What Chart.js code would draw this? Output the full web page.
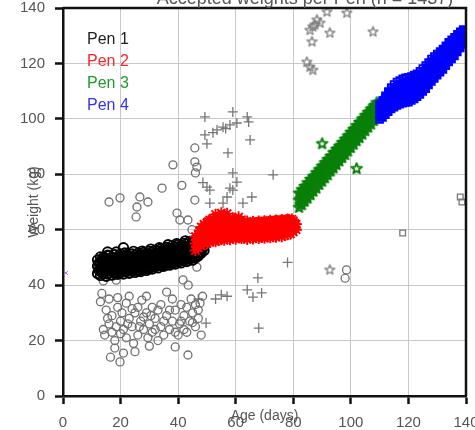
<!DOCTYPE html>
<html>
<head>
<meta charset="utf-8">
<script src="https://cdn.jsdelivr.net/npm/chart.js@4"></script>
<style>
  html, body { margin: 0; padding: 0; background: #fff; }
  canvas { display: block; }
</style>
</head>
<body>
<canvas id="weights" width="475" height="430"></canvas>
<script>
// accepted weights, one array per pen: [age (days), weight (kg)]
var pen1 = [
  [12,44.2],[12,46.8],[12,49.1],[12.5,45.4],[12.5,47.9],
  [13,43.5],[13,45.6],[13,47.9],[13,50.2],[13.5,44.6],[13.5,46.9],[13.5,49.2],
  [14,44.0],[14,46.2],[14,48.5],[14,50.0],[14.5,45.0],[14.5,47.4],[14.5,49.5],
  [15,43.2],[15,45.1],[15,47.3],[15,49.6],[15.5,52.0],[15.5,44.1],[15.5,46.3],[15.5,48.5],[15.5,50.8],
  [16,44.4],[16,46.5],[16,48.8],[16,50.6],[16.5,45.1],[16.5,47.6],[16.5,49.7],
  [17,43.6],[17,45.8],[17,47.7],[17,50.1],[17.5,44.7],[17.5,46.9],[17.5,49.2],
  [18,44.2],[18,46.3],[18,48.6],[18,51.0],[18.5,45.3],[18.5,47.5],[18.5,49.8],[18.5,52.0],
  [19,43.9],[19,45.5],[19,47.9],[19,50.3],[19.5,44.8],[19.5,46.8],[19.5,49.1],
  [20,44.5],[20,46.6],[20,48.9],[20,51.2],[20.5,45.4],[20.5,47.6],[20.5,50.0],
  [21,44.0],[21,46.0],[21,48.2],[21,50.4],[21,53.5],[21.5,45.0],[21.5,47.2],[21.5,49.4],[21.5,51.6],
  [22,44.8],[22,46.9],[22,49.0],[22,51.0],[22.5,45.6],[22.5,47.8],[22.5,50.0],
  [23,44.3],[23,46.4],[23,48.4],[23,50.6],[23.5,45.4],[23.5,47.5],[23.5,49.7],
  [24,45.0],[24,47.0],[24,49.2],[24,51.3],[24.5,45.9],[24.5,48.0],[24.5,50.1],[24.5,52.2],
  [25,44.6],[25,46.5],[25,48.6],[25,50.8],[25.5,45.5],[25.5,47.7],[25.5,49.8],
  [26,45.2],[26,47.3],[26,49.4],[26,51.5],[26.5,46.1],[26.5,48.3],[26.5,50.5],
  [27,44.9],[27,46.8],[27,48.9],[27,51.0],[27.5,45.9],[27.5,48.0],[27.5,50.2],[27.5,52.3],
  [28,45.6],[28,47.6],[28,49.7],[28,51.8],[28.5,46.4],[28.5,48.6],[28.5,50.7],
  [29,45.3],[29,47.2],[29,49.3],[29,51.4],[29.5,46.3],[29.5,48.4],[29.5,50.6],
  [30,46.0],[30,48.0],[30,50.1],[30,52.2],[30.5,46.9],[30.5,49.0],[30.5,51.1],[30.5,53.0],
  [31,45.8],[31,47.7],[31,49.8],[31,52.0],[31.5,46.8],[31.5,48.9],[31.5,51.0],
  [32,46.5],[32,48.5],[32,50.5],[32,52.6],[32.5,47.4],[32.5,49.5],[32.5,51.6],
  [33,46.2],[33,48.2],[33,50.2],[33,52.3],[33.5,47.3],[33.5,49.4],[33.5,51.5],[33.5,53.5],
  [34,47.0],[34,49.0],[34,51.0],[34,53.0],[34.5,47.9],[34.5,50.0],[34.5,52.1],
  [35,46.8],[35,48.7],[35,50.8],[35,52.9],[35.5,47.8],[35.5,49.9],[35.5,52.0],
  [36,47.4],[36,49.5],[36,51.5],[36,53.6],[36.5,48.4],[36.5,50.5],[36.5,52.6],[36.5,54.6],
  [37,47.2],[37,49.1],[37,51.2],[37,53.3],[37.5,48.3],[37.5,50.4],[37.5,52.5],
  [38,47.9],[38,50.0],[38,52.1],[38,54.2],[38.5,48.9],[38.5,51.0],[38.5,53.1],
  [39,47.6],[39,49.6],[39,51.7],[39,53.8],[39.5,48.8],[39.5,50.9],[39.5,53.0],[39.5,55.0],
  [40,48.3],[40,50.4],[40,52.5],[40,54.7],[40.5,49.3],[40.5,51.4],[40.5,53.5],
  [41,48.0],[41,50.1],[41,52.2],[41,54.3],[41.5,49.2],[41.5,51.3],[41.5,53.4],
  [42,48.8],[42,50.9],[42,53.0],[42,55.1],[42.5,49.8],[42.5,51.9],[42.5,54.0],[42.5,56.0],
  [43,48.5],[43,50.6],[43,52.8],[43,55.0],[43.5,49.7],[43.5,51.8],[43.5,54.0],
  [44,49.3],[44,51.4],[44,53.5],[44,55.8],[44.5,50.3],[44.5,52.4],[44.5,54.6],
  [45,49.0],[45,51.2],[45,53.3],[45,55.6],[45.5,50.2],[45.5,52.5],[45.5,54.8],
  [46,49.8],[46,52.0],[46,54.2],[46,56.5],[46.5,51.0],[46.5,53.2],[46.5,55.5],
  [47,50.5],[47,52.7],[47,55.0],[47,57.2],[47.5,51.8],[47.5,54.0],[47.5,56.3],
  [48,51.5],[48,53.8],[48,56.0],[48.5,53.2],[48.5,55.5],
  [49,52.5],[49,55.0]
];

var pen2 = [
  [46,52.5],[46,55.0],[46,57.5],[46.5,54.0],[46.5,56.5],
  [47,53.5],[47,56.0],[47,58.5],[47.5,54.8],[47.5,57.2],[47.5,59.5],
  [48,54.2],[48,56.5],[48,58.8],[48,61.0],[48.5,55.5],[48.5,57.8],[48.5,60.0],
  [49,54.8],[49,57.2],[49,59.5],[49,62.0],[49.5,56.0],[49.5,58.4],[49.5,60.8],
  [50,55.0],[50,57.5],[50,60.0],[50,62.5],[50.5,56.2],[50.5,58.7],[50.5,61.2],[50.5,63.0],
  [51,55.5],[51,58.0],[51,60.5],[51,63.5],[51.5,56.8],[51.5,59.2],[51.5,61.7],
  [52,56.0],[52,58.4],[52,60.8],[52,64.0],[52.5,57.0],[52.5,59.5],[52.5,62.0],
  [53,55.8],[53,58.2],[53,60.6],[53,63.2],[53,65.5],[53.5,57.2],[53.5,59.5],[53.5,61.8],[53.5,64.3],
  [54,56.2],[54,58.6],[54,61.0],[54,63.5],[54.5,57.4],[54.5,59.8],[54.5,62.2],
  [55,56.5],[55,58.9],[55,61.2],[55,64.0],[55,66.0],[55.5,57.6],[55.5,60.0],[55.5,62.3],
  [56,56.3],[56,58.7],[56,61.0],[56,63.3],[56.5,57.6],[56.5,59.9],[56.5,62.2],[56.5,64.5],
  [57,56.8],[57,59.0],[57,61.4],[57,63.8],[57,65.8],[57.5,57.8],[57.5,60.1],[57.5,62.5],
  [58,56.5],[58,58.8],[58,61.2],[58,63.5],[58.5,57.7],[58.5,60.0],[58.5,62.4],
  [59,57.0],[59,59.3],[59,61.6],[59,64.2],[59.5,58.0],[59.5,60.3],[59.5,62.6],[59.5,63.8],
  [60,56.7],[60,59.0],[60,61.3],[60,63.4],[60.5,57.9],[60.5,60.2],[60.5,62.5],
  [61,57.2],[61,59.5],[61,61.8],[61,64.6],[61.5,58.2],[61.5,60.5],[61.5,62.7],
  [62,56.9],[62,59.2],[62,61.4],[62,63.6],[62.5,58.0],[62.5,60.3],[62.5,62.4],
  [63,57.0],[63,59.3],[63,61.5],[63.5,57.8],[63.5,60.1],[63.5,62.3],
  [64,56.6],[64,58.9],[64,61.2],[64,63.0],[64.5,57.9],[64.5,60.2],[64.5,62.3],
  [65,57.1],[65,59.4],[65,61.6],[65.5,58.0],[65.5,60.3],[65.5,62.2],
  [66,56.8],[66,59.0],[66,61.3],[66,62.9],[66.5,58.1],[66.5,60.3],[66.5,62.4],
  [67,57.2],[67,59.5],[67,61.8],[67.5,58.2],[67.5,60.5],[67.5,62.5],
  [68,56.9],[68,59.1],[68,61.4],[68,63.0],[68.5,58.2],[68.5,60.4],[68.5,62.6],
  [69,57.3],[69,59.6],[69,61.9],[69.5,58.3],[69.5,60.6],[69.5,62.7],
  [70,57.0],[70,59.3],[70,61.6],[70,63.1],[70.5,58.3],[70.5,60.5],[70.5,62.7],
  [71,57.5],[71,59.8],[71,62.0],[71.5,58.5],[71.5,60.7],[71.5,62.9],
  [72,57.2],[72,59.5],[72,61.8],[72,63.3],[72.5,58.5],[72.5,60.7],[72.5,62.9],
  [73,57.6],[73,59.9],[73,62.2],[73.5,58.7],[73.5,60.9],[73.5,63.1],
  [74,57.4],[74,59.7],[74,62.0],[74,63.4],[74.5,58.7],[74.5,60.9],[74.5,63.1],
  [75,57.8],[75,60.1],[75,62.4],[75.5,58.9],[75.5,61.1],[75.5,63.2],
  [76,57.6],[76,59.9],[76,62.2],[76,63.6],[76.5,58.9],[76.5,61.2],[76.5,63.3],
  [77,58.0],[77,60.3],[77,62.6],[77.5,59.2],[77.5,61.4],[77.5,63.5],
  [78,58.3],[78,60.6],[78,62.9],[78,63.8],[78.5,59.5],[78.5,61.6],[78.5,63.6],
  [79,58.5],[79,60.8],[79,63.0],[79.5,60.0],[79.5,62.0],[79.5,63.8],
  [80,59.2],[80,61.2],[80,63.2],[80.5,60.6],[80.5,62.3],
  [81,60.0],[81,62.0]
];

var pen3 = [
  [82,68.0],[82,70.6],[82,73.2],[82.5,69.2],[82.5,71.0],[82.5,73.0],
  [83,69.0],[83,71.7],[83,74.4],[83.5,70.3],[83.5,72.6],[83.5,74.3],
  [84,70.3],[84,73.0],[84,75.6],[84.5,71.5],[84.5,73.4],[84.5,75.5],
  [85,71.4],[85,74.1],[85,76.9],[85.5,72.8],[85.5,75.0],[85.5,76.8],
  [86,72.6],[86,75.4],[86,78.1],[86.5,74.0],[86.5,75.9],[86.5,78.0],
  [87,73.9],[87,76.5],[87,79.2],[87.5,75.2],[87.5,77.0],[87.5,79.2],
  [88,75.0],[88,77.8],[88,80.5],[88.5,76.4],[88.5,78.3],[88.5,80.4],
  [89,76.3],[89,79.0],[89,81.6],[89.5,77.6],[89.5,79.8],[89.5,81.7],
  [90,77.5],[90,80.2],[90,82.9],[90,91.0],[90.5,78.8],[90.5,80.8],[90.5,82.9],
  [91,78.7],[91,81.5],[91,84.1],[91.5,80.0],[91.5,82.0],[91.5,84.1],
  [92,79.8],[92,82.6],[92,85.3],[92.5,81.2],[92.5,83.2],[92.5,85.3],
  [93,81.2],[93,83.9],[93,86.5],[93.5,82.4],[93.5,84.5],[93.5,86.5],
  [94,82.3],[94,85.0],[94,87.8],[94.5,83.7],[94.5,85.7],[94.5,87.8],
  [95,83.5],[95,86.3],[95,89.0],[95.5,84.9],[95.5,86.8],[95.5,89.0],
  [96,84.8],[96,87.4],[96,90.1],[96.5,86.1],[96.5,88.1],[96.5,90.2],
  [97,86.0],[97,88.7],[97,91.4],[97.5,87.3],[97.5,89.3],[97.5,91.4],
  [98,87.1],[98,89.9],[98,92.6],[98.5,88.5],[98.5,90.5],[98.5,92.6],
  [99,88.4],[99,91.2],[99,93.8],[99.5,89.8],[99.5,91.7],[99.5,93.9],
  [100,89.6],[100,92.3],[100,95.1],[100.5,91.0],[100.5,93.0],[100.5,95.1],
  [101,90.8],[101,93.6],[101,96.2],[101.5,92.2],[101.5,94.1],[101.5,96.3],
  [102,92.1],[102,94.8],[102,97.5],[102,82.0],[102.5,93.4],[102.5,95.4],[102.5,97.5],
  [103,93.2],[103,96.0],[103,98.7],[103.5,94.6],[103.5,96.6],[103.5,98.7],
  [104,94.5],[104,97.2],[104,99.9],[104.5,95.9],[104.5,97.9],[104.5,100.0],
  [105,95.7],[105,98.5],[105,101.1],[105.5,97.1],[105.5,99.0],[105.5,101.2],
  [106,97.0],[106,99.6],[106,102.3],[106.5,98.3],[106.5,100.3],[106.5,102.4],
  [107,98.1],[107,100.9],[107,103.5],[107.5,99.5],[107.5,101.5],[107.5,103.6],
  [108,99.4],[108,102.0],[108,104.6],[108.5,100.7],[108.5,102.7],[108.5,104.8],
  [109,100.6],[109,103.3],[109,105.8],
  [109.5,101.5],[109.5,104.2]
];

var pen4 = [
  [110,99.8],[110,101.6],[110,103.4],[110,105.2],[110.5,100.8],[110.5,103.2],[110.5,105.5],
  [111,100.5],[111,102.9],[111,104.8],[111,106.6],[111.5,101.8],[111.5,104.2],[111.5,106.8],
  [112,101.5],[112,104.0],[112,106.2],[112,108.3],[112.5,102.9],[112.5,105.4],[112.5,108.0],
  [113,102.6],[113,105.2],[113,107.5],[113,109.9],[113.5,104.0],[113.5,106.6],[113.5,109.2],
  [114,103.6],[114,106.4],[114,108.7],[114,111.3],[114.5,104.8],[114.5,107.6],[114.5,110.5],
  [115,104.2],[115,107.0],[115,109.6],[115,112.4],[115.5,105.4],[115.5,108.3],[115.5,111.3],
  [116,104.8],[116,107.7],[116,110.3],[116,113.3],[116.5,105.9],[116.5,108.9],[116.5,111.9],
  [117,105.3],[117,108.2],[117,110.9],[117,113.8],[117.5,106.3],[117.5,109.4],[117.5,112.4],
  [118,105.6],[118,108.6],[118,111.3],[118,114.5],[118.5,106.6],[118.5,109.8],[118.5,112.8],
  [119,105.9],[119,109.0],[119,111.6],[119,114.8],[119.5,106.9],[119.5,110.1],[119.5,113.2],
  [120,106.0],[120,109.1],[120,111.9],[120,115.0],[120.5,107.2],[120.5,110.4],[120.5,113.6],
  [121,106.6],[121,109.7],[121,112.3],[121,115.3],[121.5,107.8],[121.5,110.9],[121.5,114.0],
  [122,107.2],[122,110.2],[122,112.8],[122,115.8],[122.5,108.5],[122.5,111.5],[122.5,114.6],
  [123,108.0],[123,110.9],[123,113.5],[123,116.3],[123.5,109.3],[123.5,112.3],[123.5,115.3],
  [124,108.8],[124,111.7],[124,114.3],[124,117.2],[124.5,110.2],[124.5,113.2],[124.5,116.3],
  [125,109.9],[125,112.7],[125,115.3],[125,118.2],[125.5,111.3],[125.5,114.2],[125.5,117.2],
  [126,110.9],[126,113.7],[126,116.3],[126,119.2],[126.5,112.5],[126.5,115.4],[126.5,118.3],
  [127,112.2],[127,114.9],[127,117.5],[127,120.3],[127.5,113.8],[127.5,116.7],[127.5,119.6],
  [128,113.5],[128,116.2],[128,118.8],[128,121.6],[128.5,115.0],[128.5,117.9],[128.5,120.7],
  [129,114.6],[129,117.2],[129,119.8],[129,122.5],[129.5,116.1],[129.5,118.9],[129.5,121.7],
  [130,115.7],[130,118.2],[130,120.8],[130,123.4],[130.5,117.2],[130.5,120.0],[130.5,122.7],
  [131,116.8],[131,119.2],[131,121.8],[131,124.3],[131.5,118.3],[131.5,121.0],[131.5,123.7],
  [132,117.8],[132,120.2],[132,122.8],[132,125.2],[132.5,119.5],[132.5,122.2],[132.5,124.8],
  [133,119.2],[133,121.5],[133,124.1],[133,126.4],[133.5,120.8],[133.5,123.4],[133.5,126.1],
  [134,120.5],[134,122.7],[134,125.3],[134,127.6],[134.5,122.0],[134.5,124.6],[134.5,127.1],
  [135,121.6],[135,123.7],[135,126.3],[135,128.5],[135.5,123.1],[135.5,125.6],[135.5,128.1],
  [136,122.7],[136,124.7],[136,127.3],[136,129.4],[136.5,124.3],[136.5,126.8],[136.5,129.2],
  [137,124.1],[137,126.0],[137,128.6],[137,130.5],[137.5,125.6],[137.5,128.1],[137.5,130.3],
  [138,125.6],[138,127.3],[138,129.7],[138,131.4],[138.5,126.9],[138.5,129.2],[138.5,131.3],
  [139,126.8],[139,128.4],[139,130.6],[139,132.2],[139.5,128.0],[139.5,130.2],[139.5,132.0],
  [139.8,127.5],[139.8,129.4],[139.8,131.5]
];

// rejected weights (grey markers)
var rejCircles = [
  [13.5,37],[15,31],[14,24],[14.5,22],[16,26],[17,23],[18,17.3],[19.8,12.3],[17,29],[19,32],
  [20,27],[21,24],[22,33.5],[22,21],[23,28],[24,25],[25,30],[24.5,19],[26,22],[27.4,34.6],
  [27,27],[28,24],[29,30],[29.5,21],[30,26],[31,23],[32,28],[33,20],[33,31],[34,25],
  [35,22],[36,37.5],[36,29],[37,24],[38,27],[39,17.7],[39,31],[40,22],[40.5,26],[41,33],
  [42,29],[42,24],[43.4,14.8],[43,32],[44,27],[44.5,35],[45,30],[46,25],[46,33],[47.6,33.5],
  [47,28],[48,22],[13,34],[16,35],[18,20],[20.5,30],[23,36],[26,32],[31,32],[34,33],
  [38,35],[30,18],[25,16],[21,15.5],[16.5,14],
  [15.5,28],[18.5,25],[20,22.5],[22.5,26],[24,31.5],[26.5,25],[28,28.5],[30.5,29],[32,24],
  [35,27],[37,31],[39,23],[41,27],[43,23],[45,26.5],[47,31],[19,35.5],[29,36],[48.5,36],
  [14,41.5],[18.5,41.8],[41.7,41.9],[43.5,40],[46.5,46.5],
  [16,70],[19.8,71.5],[26.7,71.8],[29.5,70],[25.7,68.2],[25.4,64.6],[34.4,75],[38.2,83.4],
  [41.3,76],[45.8,89.5],[45.8,84.5],[46.5,82.6],[46,80.5],[45.8,70.7],[39.6,66],[40.6,63.5],
  [43.4,63.5],[44.8,60],
  [98.5,45.5],[98,42.5]
];
var rejPlus = [
  [49.3,100.7],[59,102.5],[64,100.7],[64.5,98.9],[60.4,98.5],[58,97.8],[55.6,97],[53.5,96],
  [52.1,95],[56.5,96.5],[49.3,94.2],[65,92.4],[57.3,87.7],[50,91],[59,80.5],[60.4,77.2],
  [59,74.3],[58,75],[57,71.8],[73,79.8],[50,75.4],[48.6,77],[51,74.3],[65.6,71.8],
  [62.5,69.6],[55.6,69.6],[51,69.6],[78,48.2],[67.7,42.6],[55,36.5],[64,38.3],[69,37.2],
  [66,35.7],[68,24.5],[53,35],[57,36],[47,35],[49.7,26.3]
];
var rejStars = [
  [88.2,135.7],[89.3,134.6],[86.8,133.2],[85.8,132],[87.5,133.9],[91.7,138.6],[98.6,138.2],
  [92.7,131],[86.5,127.8],[107.7,131.4],[84.7,120.5],[85.8,118.7],[86.8,117.6],[92.7,45.5]
];
var rejSquares = [[118,58.8],[138,71.8],[138.6,70]];
var stray = [[1,44.4]];

var penNames = ['Pen 1', 'Pen 2', 'Pen 3', 'Pen 4'];
var penTextColors = ['#222222', '#ee2a2a', '#22992a', '#3333ee'];
var xTicks = [0, 20, 40, 60, 80, 100, 120, 140];
var yTicks = [0, 20, 40, 60, 80, 100, 120, 140];

function toXY(list) {
  return list.map(function(p) { return {x: p[0], y: p[1]}; });
}

// pentagram marker drawn once on a small canvas
function pentagram(color, size, lw) {
  var c = document.createElement('canvas');
  c.width = size; c.height = size;
  var g = c.getContext('2d');
  var R = size / 2 - lw, r = R * 0.42, m = size / 2;
  g.strokeStyle = color;
  g.lineWidth = lw;
  g.lineJoin = 'round';
  g.beginPath();
  for (var i = 0; i < 10; i++) {
    var rad = i % 2 ? r : R;
    var a = -Math.PI / 2 + i * Math.PI / 5;
    if (i === 0) g.moveTo(m + rad * Math.cos(a), m + rad * Math.sin(a));
    else g.lineTo(m + rad * Math.cos(a), m + rad * Math.sin(a));
  }
  g.closePath();
  g.stroke();
  return c;
}

var greenStar = pentagram('#0a800a', 15, 1.9);
var greyStar = pentagram('#808080', 13, 1.3);

// frame + legend + clipped title
var extras = {
  id: 'extras',
  afterDraw: function(chart) {
    var ctx = chart.ctx, a = chart.chartArea;
    ctx.save();
    ctx.strokeStyle = '#111';
    ctx.lineWidth = 2.5;
    ctx.beginPath();
    ctx.moveTo(a.left, a.top);
    ctx.lineTo(a.right, a.top);
    ctx.lineTo(a.right, a.bottom);
    ctx.stroke();

    ctx.font = '16px "Liberation Sans", Arial, sans-serif';
    ctx.textBaseline = 'middle';
    ctx.textAlign = 'left';
    penNames.forEach(function(name, i) {
      ctx.fillStyle = penTextColors[i];
      ctx.fillText(name, 87, 40 + i * 22);
    });

    ctx.fillStyle = '#555';
    ctx.font = '18px "Liberation Sans", Arial, sans-serif';
    ctx.textAlign = 'center';
    ctx.textBaseline = 'alphabetic';
    ctx.fillText('Accepted weights per Pen (n = 1437)', 305, 3.5);
    ctx.restore();
  }
};

var gridOpts = {
  color: '#c8c8c8',
  lineWidth: 1,
  borderDash: [2, 3],
  tickColor: '#111',
  tickWidth: 2.5,
  tickLength: 8,
  tickBorderDash: []
};

new Chart(document.getElementById('weights'), {
  type: 'scatter',
  data: {
    datasets: [
      { label: 'Pen 4', data: toXY(pen4), pointStyle: 'rect', radius: 4.7, borderColor: '#0000ff', backgroundColor: 'rgba(0,0,0,0)', borderWidth: 1.9 },
      { label: 'Pen 3', data: toXY(pen3), pointStyle: greenStar, radius: 7 },
      { label: 'Pen 2', data: toXY(pen2), pointStyle: 'star', radius: 5.8, borderColor: '#ff0000', backgroundColor: 'rgba(0,0,0,0)', borderWidth: 1.9 },
      { label: 'Pen 1', data: toXY(pen1), pointStyle: 'circle', radius: 4.7, borderColor: '#000', backgroundColor: 'rgba(0,0,0,0)', borderWidth: 1.9 },
      { label: 'rejected circles', data: toXY(rejCircles), pointStyle: 'circle', radius: 4, borderColor: '#707070', backgroundColor: 'rgba(0,0,0,0)', borderWidth: 1.3 },
      { label: 'rejected plus', data: toXY(rejPlus), pointStyle: 'cross', radius: 5, borderColor: '#777', borderWidth: 1.3 },
      { label: 'rejected stars', data: toXY(rejStars), pointStyle: greyStar, radius: 6 },
      { label: 'rejected squares', data: toXY(rejSquares), pointStyle: 'rect', radius: 4, borderColor: '#777', backgroundColor: 'rgba(0,0,0,0)', borderWidth: 1.3 },
      { label: 'other', data: toXY(stray), pointStyle: 'crossRot', radius: 3, borderColor: '#a070c8', borderWidth: 1 }
    ]
  },
  options: {
    responsive: false,
    animation: false,
    layout: { padding: { top: 8, right: 9, left: 0, bottom: 0 } },
    plugins: { legend: { display: false }, tooltip: { enabled: false } },
    scales: {
      x: {
        type: 'linear', min: 0, max: 140,
        afterFit: function(s) { s.height = 34; s.paddingLeft = 0; s.paddingRight = 0; },
        afterBuildTicks: function(s) { s.ticks = xTicks.map(function(v) { return {value: v}; }); },
        grid: gridOpts,
        border: { color: '#111', width: 2.5 },
        ticks: { color: '#555', padding: 10, font: { family: '"Liberation Sans", Arial, sans-serif', size: 15 } },
        title: { display: true, text: 'Age (days)', color: '#555', padding: { bottom: 5 }, font: { family: '"Liberation Sans", Arial, sans-serif', size: 14 } }
      },
      y: {
        type: 'linear', min: 0, max: 140,
        afterFit: function(s) { s.width = 63; s.paddingTop = 0; s.paddingBottom = 0; },
        afterBuildTicks: function(s) { s.ticks = yTicks.map(function(v) { return {value: v}; }); },
        grid: gridOpts,
        border: { color: '#111', width: 2.5 },
        ticks: { color: '#555', padding: 10, font: { family: '"Liberation Sans", Arial, sans-serif', size: 15 } },
        title: { display: true, text: 'Weight (kg)', color: '#555', padding: { top: 26 }, font: { family: '"Liberation Sans", Arial, sans-serif', size: 14 } }
      }
    }
  },
  plugins: [extras]
});
</script>
</body>
</html>
